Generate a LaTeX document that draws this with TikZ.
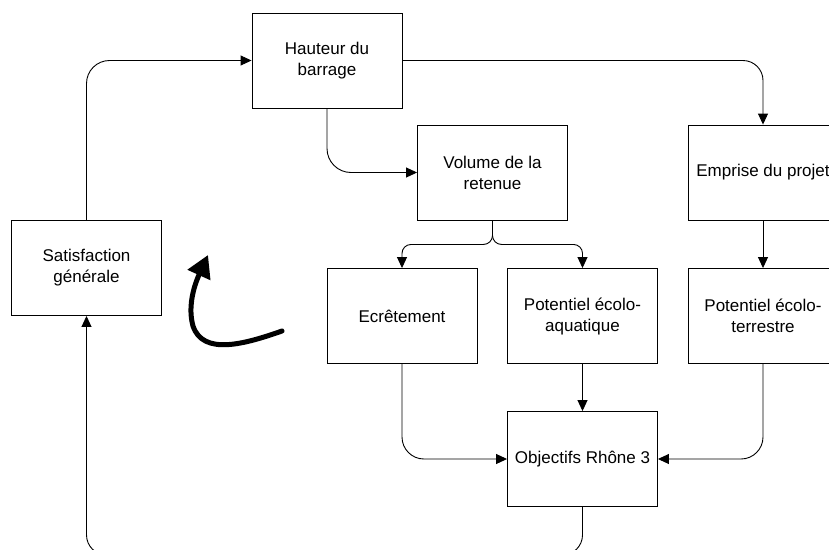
\documentclass[tikz,border=0pt]{standalone}
\usepackage{fontspec}
\setmainfont{Liberation Sans}
\usetikzlibrary{arrows.meta}
\begin{document}
\begin{tikzpicture}[x=1pt,y=-1pt,
  box/.style={draw, line width=0.9pt, minimum width=150pt, minimum height=95pt,
    inner sep=0pt, align=center, font=\fontsize{17}{21}\selectfont},
  conn/.style={line width=0.9pt, -{Triangle[length=11pt,width=10pt]}},
  loop/.style={line width=5pt, line cap=round, -{Triangle[length=22pt,width=24pt]}}]
\path[use as bounding box, clip] (0,0) rectangle (829,549);

% boxes
\node[box] (hau) at (327,60.5)   {Hauteur du\\barrage};
\node[box] (sat) at (86.5,268)   {Satisfaction\\générale};
\node[box] (vol) at (492.5,172.5){Volume de la\\retenue};
\node[box] (emp) at (763,172.5)  {Emprise du projet};
\node[box] (ecr) at (402,316)    {Ecrêtement};
\node[box] (aqu) at (582.5,316)  {Potentiel écolo-\\aquatique};
\node[box] (ter) at (763,316)    {Potentiel écolo-\\terrestre};
\node[box] (obj) at (582.5,459)  {Objectifs Rhône 3};

% connectors
\draw[conn, rounded corners=23pt] (sat.north) |- (hau.west);
\draw[conn, rounded corners=20pt] (hau.east) -| (emp.north);
\draw[conn, rounded corners=24pt] (hau.south) |- (vol.west);
\draw[conn, rounded corners=9pt] (vol.south) -- ++(0,24) -| (ecr.north);
\draw[conn, rounded corners=9pt] (vol.south) -- ++(0,24) -| (aqu.north);
\draw[conn] (emp.south) -- (ter.north);
\draw[conn, rounded corners=22pt] (ecr.south) |- (obj.west);
\draw[conn] (aqu.south) -- (obj.north);
\draw[conn, rounded corners=22pt] (ter.south) |- (obj.east);
\draw[conn, rounded corners=20pt] (obj.south) -- ++(0,48) -| (sat.south);

% feedback loop arrow
\coordinate (lt) at (282,331);
\coordinate (lh) at (208,255);
\draw[loop] (lt) .. controls (245,344) and (203,356) .. (193,326)
  .. controls (188,308) and (193,288) .. (lh);
\end{tikzpicture}
\end{document}
